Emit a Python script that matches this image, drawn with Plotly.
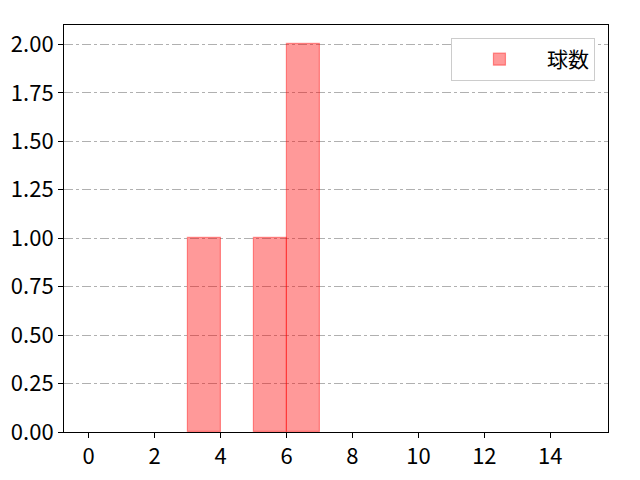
import plotly.graph_objects as go

# histogram bins (left edges, width 1) and counts
bin_left = [3, 5, 6]
counts = [1, 1, 2]
bin_width = 1
x_ticks = [0, 2, 4, 6, 8, 10, 12, 14]
y_ticks = [0, 0.25, 0.5, 0.75, 1.0, 1.25, 1.5, 1.75, 2.0]

fig = go.Figure()

fig.add_trace(
    go.Bar(
        x=bin_left,
        y=counts,
        width=bin_width,
        offset=0,
        name="球数",
        marker=dict(
            color="rgba(255,0,0,0.4)",
            line=dict(color="rgba(255,0,0,0.4)", width=1.2),
        ),
        showlegend=True,
    )
)

# page body adds an offset, so margins are shifted to compensate
fig.update_layout(
    width=640,
    height=480,
    margin=dict(l=56, r=40, t=17, b=56),
    plot_bgcolor="white",
    paper_bgcolor="white",
    font=dict(family="Noto Sans CJK JP", size=22, color="black"),
    bargap=0,
    legend=dict(
        x=0.976, y=0.968, xanchor="right", yanchor="top",
        bordercolor="#cccccc", borderwidth=1,
        font=dict(size=21),
        itemwidth=85,
        tracegroupgap=0,
    ),
)

fig.update_xaxes(
    range=[-0.75, 15.75],
    tickvals=x_ticks,
    ticks="outside", ticklen=5, tickcolor="black",
    showline=True, linecolor="black", linewidth=1, mirror=True,
    showgrid=False, zeroline=False, automargin=False,
)

fig.update_yaxes(
    range=[0, 2.1],
    tickvals=y_ticks,
    tickformat=".2f",
    ticks="outside", ticklen=5, tickcolor="black",
    showline=True, linecolor="black", linewidth=1, mirror=True,
    showgrid=True, gridcolor="#b0b0b0", griddash="dashdot", gridwidth=1,
    zeroline=False, automargin=False,
)

fig.write_html("out.html")
